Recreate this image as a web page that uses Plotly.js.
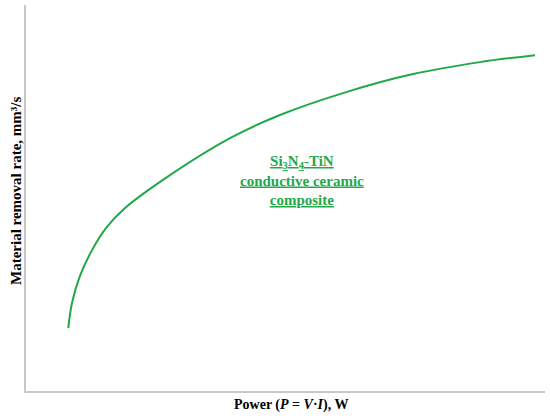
<!DOCTYPE html>
<html>
<head>
<meta charset="utf-8">
<script src="https://cdn.plot.ly/plotly-3.0.1.min.js"></script>
<style>html,body{margin:0;padding:0;background:#fff;}#chart{width:550px;height:419px;}</style>
</head>
<body>
<div id="chart"></div>
<script>
// Power (arbitrary units, no ticks shown)
const power = [8.15, 8.86, 10.40, 12.72, 15.41, 19.08, 26.40, 39.31, 48.94, 61.85, 74.57, 87.48, 98.07];
// Material removal rate (arbitrary units)
const mrr = [16.3, 22.8, 29.8, 36.5, 42.2, 47.4, 54.7, 65.5, 71.5, 77.5, 82.1, 85.2, 87.0];

const xTitle = 'Power (<i>P</i> = <i>V</i>·<i>I</i>), W';
const yTitle = 'Material removal rate, mm³/s';
const labelLines = ['Si<sub>3</sub>N<sub>4</sub>-TiN', 'conductive ceramic', 'composite'];

const green = '#22a84a';
const serif = 'Liberation Serif, DejaVu Serif, serif';

const data = [{
  x: power, y: mrr, type: 'scatter', mode: 'lines',
  line: {color: green, width: 2, shape: 'spline', smoothing: 1},
  hoverinfo: 'skip'
}];

const layout = {
  width: 550, height: 419,
  margin: {l: 26, r: 5, t: 5, b: 28},
  paper_bgcolor: '#fff', plot_bgcolor: '#fff',
  showlegend: false,
  xaxis: {range: [0, 100], showline: true, linecolor: '#c8c8c8', linewidth: 2,
          showgrid: false, zeroline: false, showticklabels: false, ticks: ''},
  yaxis: {range: [0, 100], showline: true, linecolor: '#c8c8c8', linewidth: 2,
          showgrid: false, zeroline: false, showticklabels: false, ticks: ''},
  annotations: [
    {xref: 'paper', yref: 'paper', x: (291 - 26) / 519, y: (391 - 405) / 386,
     text: '<b>' + xTitle + '</b>', showarrow: false, xanchor: 'center', yanchor: 'middle',
     font: {family: serif, size: 14, color: '#000'}},
    {xref: 'paper', yref: 'paper', x: (16 - 26) / 519, y: (391 - 191) / 386,
     text: '<b>' + yTitle + '</b>', showarrow: false, textangle: -90, xanchor: 'center', yanchor: 'middle',
     font: {family: serif, size: 15, color: '#000'}},
    {xref: 'paper', yref: 'paper', x: (302 - 26) / 519, y: (391 - 181) / 386,
     text: labelLines.map(s => '<span style="text-decoration:underline"><b>' + s + '</b></span>').join('<br>'),
     showarrow: false, xanchor: 'center', yanchor: 'middle', align: 'center',
     font: {family: serif, size: 15, color: green}}
  ]
};

Plotly.newPlot('chart', data, layout, {staticPlot: true, displayModeBar: false});
</script>
</body>
</html>
